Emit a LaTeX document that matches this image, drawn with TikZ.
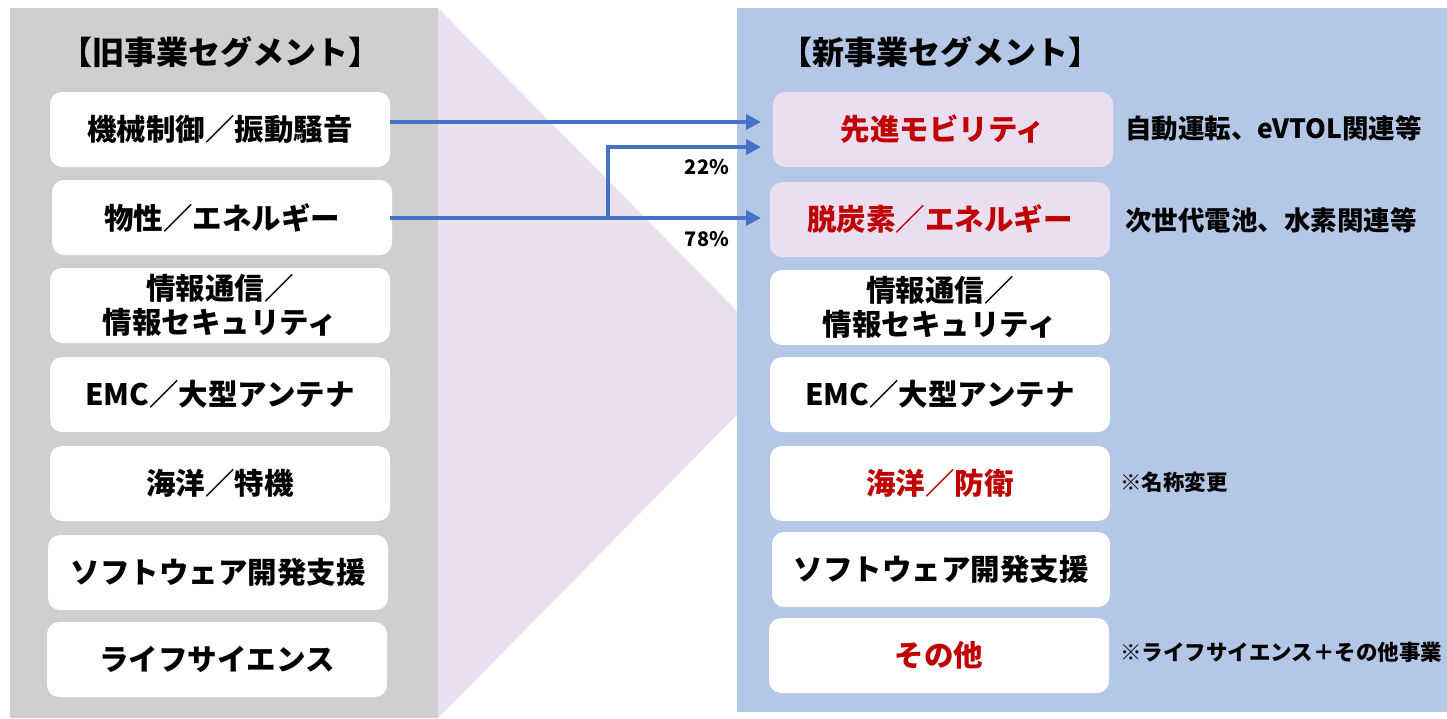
\documentclass[tikz,border=0pt]{standalone}
\usepackage{fontspec}
\setmainfont{Noto Sans CJK JP}
\usetikzlibrary{arrows.meta}
\definecolor{grayp}{HTML}{D0CECE}
\definecolor{pinkp}{HTML}{EBDEF0}
\definecolor{bluep}{HTML}{B4C7E7}
\definecolor{arrc}{HTML}{4472C4}
\definecolor{redt}{HTML}{C00000}
\tikzset{
  box/.style={draw=none, fill=white, rounded corners=12pt, minimum width=340pt, minimum height=75pt, inner sep=0pt, align=center, font=\fontsize{29.5}{34}\selectfont\bfseries},
  pbox/.style={box, fill=pinkp, text=redt},
  rtext/.style={box, text=redt},
  ttl/.style={inner sep=0pt, font=\fontsize{32}{36}\selectfont\bfseries},
  side/.style={inner sep=0pt, anchor=west, font=\fontsize{26.5}{30}\selectfont\bfseries},
  note/.style={inner sep=0pt, anchor=west, font=\fontsize{21.5}{24}\selectfont\bfseries},
  pct/.style={inner sep=0pt, font=\fontsize{20}{22}\selectfont\bfseries},
  arr/.style={draw=arrc, line width=3.6pt, -{Triangle[length=15pt,width=15pt]}}
}
\begin{document}
\begin{tikzpicture}[x=1pt,y=-1pt]
\useasboundingbox (0,0) rectangle (1447,718);
\fill[white] (0,0) rectangle (1447,718);
% panels
\fill[grayp] (10,8) rectangle (438,718);
\fill[pinkp] (438,8) -- (788,363) -- (438,718) -- cycle;
\fill[bluep] (737,8) rectangle (1447,712);
% titles
\node[ttl] (t1) at (220,52) {【旧事業セグメント】};
\node[ttl] (t2) at (940,52) {【新事業セグメント】};
% left boxes
\node[box] (l1) at (220,129.5) {機械制御／振動騒音};
\node[box] (l2) at (222,217.5) {物性／エネルギー};
\node[box] (l3) at (220,305.5) {情報通信／\\情報セキュリティ};
\node[box] (l4) at (220,394.5) {EMC／大型アンテナ};
\node[box] (l5) at (220,483.5) {海洋／特機};
\node[box] (l6) at (218,572.5) {ソフトウェア開発支援};
\node[box] (l7) at (217,659.5) {ライフサイエンス};
% right boxes
\node[pbox] (r1) at (943,129.5) {先進モビリティ};
\node[pbox] (r2) at (940,219.5) {脱炭素／エネルギー};
\node[box] (r3) at (940,307.5) {情報通信／\\情報セキュリティ};
\node[box] (r4) at (940,394.5) {EMC／大型アンテナ};
\node[rtext] (r5) at (940,483.5) {海洋／防衛};
\node[box, minimum width=338pt] (r6) at (941,569.5) {ソフトウェア開発支援};
\node[rtext] (r7) at (939,655.5) {その他};
% side labels
\node[side] (s1) at (1125,128) {自動運転、eVTOL関連等};
\node[side] (s2) at (1125,220) {次世代電池、水素関連等};
\node[note] (n1) at (1120,482) {※名称変更};
\node[note] (n2) at (1120,652) {※ライフサイエンス＋その他事業};
% arrows
\coordinate (a1s) at (390,122);
\coordinate (a1e) at (761,122);
\draw[arr] (a1s) -- (a1e);
\coordinate (a2s) at (390,218);
\coordinate (a2e) at (761,218);
\coordinate (br) at (608,218);
\coordinate (a3e) at (761,147);
\draw[arr] (a2s) -- (a2e);
\draw[arr] (br) |- (a3e);
\node[pct] (p1) at (707,167) {22\%};
\node[pct] (p2) at (707,239) {78\%};
\end{tikzpicture}
\end{document}
